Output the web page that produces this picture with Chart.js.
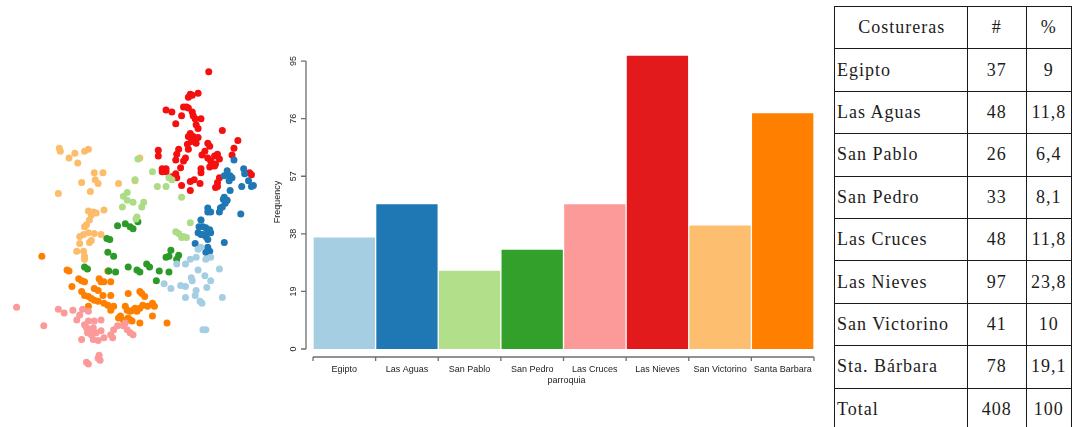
<!DOCTYPE html>
<html lang="es">
<head>
<meta charset="utf-8">
<title>Costureras por parroquia</title>
<script src="https://cdn.jsdelivr.net/npm/chart.js@4/dist/chart.umd.min.js"></script>
<style>
  html, body { margin: 0; padding: 0; background: #fff; }
  body { width: 1072px; height: 427px; overflow: hidden; position: relative; }
  #mapa { position: absolute; left: 0; top: 0; }
  #barras { position: absolute; left: 270px; top: 0; }
  table.resumen {
    position: absolute; left: 834px; top: 6px;
    border-collapse: collapse; table-layout: fixed;
    font-family: "Liberation Serif", "DejaVu Serif", serif;
    font-size: 18px; letter-spacing: 1px; color: #1c1c1c;
  }
  table.resumen td { border: 1px solid #1a1a1a; height: 41.4px; padding: 0 0 0 2px; vertical-align: middle; white-space: nowrap; }
  table.resumen td.num { text-align: center; padding: 0; }
  table.resumen tr.cab td.nombre { text-align: center; }
</style>
</head>
<body>
<canvas id="mapa" width="270" height="427"></canvas>
<canvas id="barras" width="560" height="427"></canvas>
<table class="resumen" id="tabla">
  <colgroup><col style="width:134px"><col style="width:61px"><col style="width:46px"></colgroup>
  <tbody></tbody>
</table>
<script>
// Parroquias (order used by the bar chart and the table)
const parroquias = ['Egipto', 'Las Aguas', 'San Pablo', 'San Pedro', 'Las Cruces', 'Las Nieves', 'San Victorino', 'Santa Barbara'];
const nombresTabla = ['Egipto', 'Las Aguas', 'San Pablo', 'San Pedro', 'Las Cruces', 'Las Nieves', 'San Victorino', 'Sta. Bárbara'];
// Number of seamstresses per parroquia and their share (%)
const costureras = [37, 48, 26, 33, 48, 97, 41, 78];
const porcentajes = ['9', '11,8', '6,4', '8,1', '11,8', '23,8', '10', '19,1'];
const porcentajeTotal = '100';
// Frequency axis ticks
const yTicks = [0, 19, 38, 57, 76, 95];

// Seamstress locations on the map sheet, grid units [east, south]
const ubicEgipto = [[200,250],[203,248],[208,260],[213,258],[198,258],[192,260],[187,265],[178,265],[222,270],[200,271],[207,277],[193,279],[213,282],[165,285],[172,290],[182,287],[187,288],[194,282],[209,289],[198,292],[197,297],[187,299],[202,303],[204,305],[225,299],[205,332],[208,332]];
const ubicLasAguas = [[237,159],[247,168],[230,170],[227,175],[233,175],[235,177],[232,180],[245,186],[255,186],[252,180],[248,173],[257,185],[227,197],[230,200],[228,203],[225,207],[222,212],[226,199],[233,190],[223,208],[210,208],[213,212],[210,212],[244,214],[203,220],[205,227],[201,227],[208,228],[200,233],[203,235],[208,237],[210,232],[213,233],[212,230],[205,235],[210,240],[197,244],[227,243],[210,248],[212,252],[208,253]];
const ubicSanPablo = [[153,171],[170,177],[173,179],[158,186],[167,186],[183,197],[138,158],[135,179],[127,192],[123,196],[127,200],[133,202],[144,202],[122,207],[137,217],[136,219],[192,223],[203,220],[177,232],[180,234],[185,237],[188,238],[183,238],[142,207]];
const ubicSanPedro = [[117,226],[125,224],[130,227],[133,229],[138,222],[106,239],[109,240],[107,253],[113,257],[83,268],[86,270],[108,272],[115,273],[128,268],[137,271],[140,273],[147,265],[150,268],[160,272],[172,251],[170,257],[167,258],[180,256],[178,260],[170,273],[157,282]];
const ubicLasCruces = [[13,309],[41,328],[56,311],[62,315],[71,312],[81,311],[87,313],[78,317],[75,322],[87,323],[83,327],[85,330],[88,332],[92,330],[93,323],[100,322],[86,335],[90,337],[95,335],[100,333],[80,342],[97,343],[103,340],[110,337],[113,332],[117,328],[112,340],[123,328],[127,332],[130,335],[133,337],[85,365],[87,367],[97,361],[98,358],[99,363],[92,342],[125,325]];
const ubicLasNieves = [[211,69],[192,92],[190,95],[194,93],[200,91],[167,108],[173,110],[185,105],[188,105],[190,106],[183,114],[194,110],[195,114],[197,117],[203,117],[177,122],[198,123],[200,127],[225,129],[192,132],[190,135],[195,135],[197,138],[200,136],[198,142],[193,140],[189,143],[210,142],[212,145],[241,139],[159,149],[159,155],[180,148],[178,153],[177,159],[187,157],[185,160],[190,148],[207,150],[204,154],[210,157],[213,160],[215,163],[217,155],[220,153],[222,158],[218,163],[237,147],[235,154],[182,167],[163,168],[167,168],[203,168],[212,166],[217,165],[163,171],[167,171],[177,173],[178,177],[183,185],[192,181],[192,190],[202,183],[203,172],[222,177],[220,182],[220,186],[253,172],[255,174],[173,176],[196,179],[218,187]];
const ubicSanVictorino = [[57,147],[58,150],[67,157],[73,152],[83,150],[87,148],[76,162],[93,172],[102,172],[80,182],[94,179],[97,183],[89,191],[56,193],[118,183],[135,180],[140,157],[87,211],[92,212],[95,213],[90,215],[103,210],[88,220],[83,227],[85,225],[82,235],[87,233],[93,234],[100,235],[78,237],[78,244],[88,243],[90,241],[75,252],[82,252],[83,257],[83,260]];
const ubicSantaBarbara = [[39,257],[65,271],[67,272],[77,280],[80,282],[83,283],[70,288],[98,280],[100,283],[103,283],[110,283],[93,290],[97,292],[80,293],[83,297],[87,298],[90,300],[93,302],[97,303],[103,305],[87,308],[110,312],[113,308],[128,295],[125,308],[127,312],[130,313],[133,312],[135,310],[120,318],[123,322],[130,322],[132,323],[107,272],[140,293],[142,295],[145,298],[153,305],[155,308],[137,313],[140,310],[143,307],[148,308],[153,318],[128,320],[140,325],[168,325],[118,320],[107,307],[102,297],[110,297]];

// Paired palette, one colour per parroquia
const colores = ['#a6cee3', '#1f78b4', '#b2df8a', '#33a02c', '#fb9a99', '#e31a1c', '#fdbf6f', '#ff7f00'];
const coloresMapa = ['#a6cee3', '#1f78b4', '#acdc86', '#2c9a26', '#fb9a99', '#f50f0f', '#fdbc6a', '#ff7f00'];

const ubicaciones = [ubicEgipto, ubicLasAguas, ubicSanPablo, ubicSanPedro, ubicLasCruces, ubicLasNieves, ubicSanVictorino, ubicSantaBarbara];

// --- Map of seamstress locations ---
new Chart(document.getElementById('mapa'), {
  type: 'scatter',
  data: {
    datasets: ubicaciones.map((pts, i) => ({
      label: parroquias[i],
      data: pts.map(([e, s]) => ({ x: e, y: s })),
      backgroundColor: coloresMapa[i],
      pointRadius: 3.5,
      pointBorderWidth: 0
    }))
  },
  options: {
    responsive: false,
    animation: false,
    events: [],
    layout: { padding: 0 },
    plugins: { legend: { display: false }, tooltip: { enabled: false } },
    scales: {
      x: { type: 'linear', min: 0, max: 270, display: false },
      y: { type: 'linear', min: 0, max: 427, reverse: true, display: false }
    }
  }
});

// R-style detached axes drawn from the chart's scales
const ejesR = {
  id: 'ejesR',
  afterDraw(chart) {
    const { ctx, chartArea: a, scales: { x, y } } = chart;
    ctx.save();
    ctx.strokeStyle = '#6e6e6e';
    ctx.lineWidth = 1.3;
    ctx.fillStyle = '#222';
    ctx.font = '9px "Liberation Sans", Arial, sans-serif';

    // vertical axis, spanning the tick range only
    const ex = a.left - 7;
    const yBase = y.getPixelForValue(yTicks[0]);
    const yTope = y.getPixelForValue(yTicks[yTicks.length - 1]);
    ctx.beginPath();
    ctx.moveTo(ex, yBase);
    ctx.lineTo(ex, yTope);
    yTicks.forEach(v => {
      const py = y.getPixelForValue(v);
      ctx.moveTo(ex, py);
      ctx.lineTo(ex - 5, py);
    });
    ctx.stroke();
    ctx.textAlign = 'center';
    ctx.textBaseline = 'middle';
    yTicks.forEach(v => {
      const py = y.getPixelForValue(v);
      ctx.save();
      ctx.translate(ex - 12, py);
      ctx.rotate(-Math.PI / 2);
      ctx.fillText(String(v), 0, 0);
      ctx.restore();
    });
    ctx.save();
    ctx.translate(8, (yBase + yTope) / 2 - 3);
    ctx.rotate(-Math.PI / 2);
    ctx.fillText('Frequency', 0, 0);
    ctx.restore();

    // horizontal axis with ticks at bar boundaries
    const ey = a.bottom + 8;
    const n = parroquias.length;
    const paso = x.getPixelForValue(1) - x.getPixelForValue(0);
    const izq = x.getPixelForValue(0) - paso / 2;
    const der = x.getPixelForValue(n - 1) + paso / 2;
    ctx.beginPath();
    ctx.moveTo(izq, ey);
    ctx.lineTo(der, ey);
    for (let i = 0; i <= n; i++) {
      const px = izq + i * paso;
      ctx.moveTo(px, ey);
      ctx.lineTo(px, ey + 4);
    }
    ctx.stroke();
    parroquias.forEach((p, i) => {
      ctx.fillText(p, x.getPixelForValue(i), ey + 13);
    });
    ctx.fillText('parroquia', (izq + der) / 2 + 3, ey + 24);
    ctx.restore();
  }
};

// --- Bar chart of seamstresses by parroquia ---
// The value range reaches the tallest bar, which rises past the last tick.
new Chart(document.getElementById('barras'), {
  type: 'bar',
  data: {
    labels: parroquias,
    datasets: [{
      data: costureras,
      backgroundColor: colores,
      borderColor: 'rgba(255,255,255,0.55)',
      borderWidth: 1,
      borderSkipped: 'bottom',
      categoryPercentage: 1,
      barPercentage: 1
    }]
  },
  options: {
    responsive: false,
    animation: false,
    events: [],
    layout: { padding: { left: 43, right: 16, top: 55, bottom: 78 } },
    plugins: { legend: { display: false }, tooltip: { enabled: false } },
    scales: {
      x: { display: false },
      y: { display: false, min: 0, max: Math.max(...costureras) }
    }
  },
  plugins: [ejesR]
});

// --- Summary table ---
const cuerpo = document.querySelector('#tabla tbody');
function fila(nombre, num, pct, cab) {
  const tr = document.createElement('tr');
  if (cab) tr.className = 'cab';
  [[nombre, 'nombre'], [num, 'num'], [pct, 'num']].forEach(([t, c]) => {
    const td = document.createElement('td');
    td.className = c;
    td.textContent = t;
    tr.appendChild(td);
  });
  cuerpo.appendChild(tr);
}
fila('Costureras', '#', '%', true);
nombresTabla.forEach((n, i) => fila(n, String(costureras[i]), porcentajes[i]));
fila('Total', String(costureras.reduce((s, v) => s + v, 0)), porcentajeTotal);
</script>
</body>
</html>
